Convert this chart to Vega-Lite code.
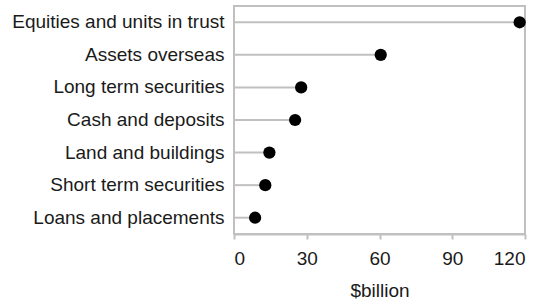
{
  "$schema": "https://vega.github.io/schema/vega-lite/v6.json",
  "width": 291,
  "height": 228,
  "autosize": {"type": "none"},
  "padding": {"left": 234, "top": 6, "right": 19, "bottom": 66},
  "background": "white",
  "config": {
    "view": {"stroke": "#c0c0c0", "strokeWidth": 2},
    "font": "Liberation Sans"
  },
  "data": {
    "values": [
      {"category": "Equities and units in trust", "value": 117.8},
      {"category": "Assets overseas\u00a0", "value": 60.5},
      {"category": "Long term securities", "value": 27.7},
      {"category": "Cash and deposits", "value": 25.2},
      {"category": "Land and buildings", "value": 14.6},
      {"category": "Short term securities", "value": 12.9},
      {"category": "Loans and placements", "value": 8.7}
    ]
  },
  "encoding": {
    "y": {
      "field": "category",
      "type": "nominal",
      "sort": null,
      "scale": {"paddingInner": 0, "paddingOuter": 0},
      "axis": {
        "title": null,
        "ticks": false,
        "domain": false,
        "labelFontSize": 19,
        "labelColor": "#1a1a1a",
        "labelPadding": 10,
        "labelLimit": 300
      }
    },
    "x": {
      "field": "value",
      "type": "quantitative",
      "scale": {"domain": [0, 120], "nice": false},
      "axis": {
        "values": [0, 30, 60, 90, 120],
        "grid": false,
        "domain": true,
        "domainColor": "#c0c0c0",
        "domainWidth": 2,
        "tickColor": "#c0c0c0",
        "tickWidth": 2,
        "tickSize": 5,
        "labelFontSize": 19,
        "labelColor": "#1a1a1a",
        "labelPadding": 10,
        "title": "$billion",
        "titleFontSize": 19,
        "titleFontWeight": "normal",
        "titleColor": "#1a1a1a",
        "titlePadding": 13
      }
    }
  },
  "layer": [
    {
      "mark": {"type": "rule", "color": "#c0c0c0", "strokeWidth": 2},
      "encoding": {
        "x2": {"datum": 0}
      }
    },
    {
      "mark": {"type": "point", "filled": true, "color": "black", "opacity": 1, "size": 150}
    }
  ]
}
